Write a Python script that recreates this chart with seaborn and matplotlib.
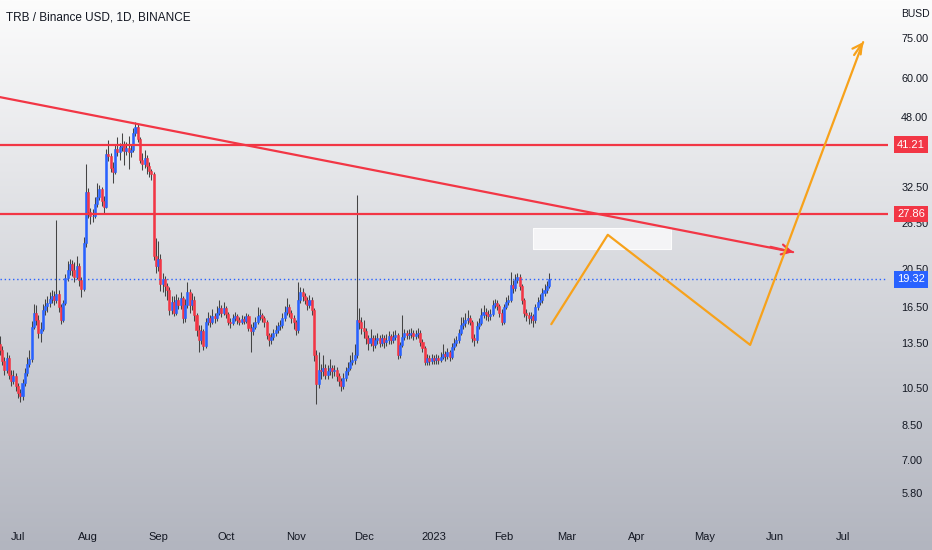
import numpy as np
import pandas as pd
import matplotlib
matplotlib.use("Agg")
import matplotlib.pyplot as plt
import matplotlib.dates as mdates
import matplotlib.transforms as mtransforms
import seaborn as sns

# ---------------- data ----------------
start_date = "2022-06-23"
first_open = 13.4
closes = [
    13.0, 12.2, 11.6, 12.4, 11.3, 10.9, 11.2, 10.6, 10.2, 10.0,
    10.8, 11.4, 12.0, 12.3, 14.8, 16.0, 15.4, 14.3, 14.6, 16.2,
    16.6, 16.9, 17.3, 17.6, 17.2, 17.8, 16.5, 15.4, 16.9, 19.5,
    20.3, 21.0, 20.4, 19.6, 20.8, 19.2, 18.3, 23.7, 31.5, 28.2,
    27.5, 27.6, 29.5, 30.6, 32.0, 30.0, 29.0, 39.0, 38.6, 36.2,
    35.4, 40.2, 39.5, 40.6, 41.0, 39.8, 40.5, 39.4, 40.0, 44.0,
    45.5, 42.5, 37.8, 37.0, 38.2, 36.5, 35.6, 35.0, 22.0, 20.8,
    21.7, 18.8, 19.3, 18.6, 18.2, 16.2, 17.0, 16.0, 17.2, 16.7,
    17.4, 15.5, 16.7, 18.0, 16.7, 17.2, 15.8, 14.5, 13.7, 14.4,
    13.3, 15.2, 15.5, 15.2, 15.7, 15.5, 16.0, 16.4, 16.0, 16.4,
    15.9, 15.2, 15.1, 15.5, 15.7, 15.35, 15.2, 15.45, 15.3, 15.7,
    14.7, 14.4, 14.8, 15.2, 15.7, 15.8, 15.5, 15.2, 14.1, 13.7,
    13.95, 14.3, 14.5, 14.85, 14.9, 15.5, 16.1, 16.5, 15.95, 15.5,
    15.2, 14.5, 17.2, 18.0, 17.6, 17.2, 16.7, 17.2, 16.2, 12.6,
    10.7, 11.6, 11.5, 11.75, 11.3, 11.55, 11.75, 11.5, 11.6, 11.2,
    10.9, 10.6, 11.1, 11.5, 11.75, 12.1, 12.25, 12.6, 15.35, 15.2,
    14.7, 14.4, 13.9, 13.5, 13.9, 13.35, 13.7, 13.9, 13.5, 13.9,
    13.6, 13.7, 14.0, 13.7, 13.95, 14.1, 12.6, 13.35, 13.95, 14.3,
    14.1, 14.2, 14.3, 14.0, 14.2, 14.3, 13.6, 13.1, 12.1, 12.4,
    12.2, 12.4, 12.25, 12.4, 12.25, 12.45, 12.7, 12.55, 12.8, 12.45,
    13.2, 13.5, 13.7, 14.3, 14.9, 15.1, 15.35, 15.5, 15.2, 13.9,
    13.7, 14.85, 15.1, 15.8, 16.1, 15.9, 15.7, 15.9, 16.7, 16.9,
    16.6, 16.0, 15.2, 16.5, 17.0, 17.2, 18.75, 18.4, 19.2, 19.6,
    18.6, 17.2, 16.0, 15.8, 15.5, 15.7, 15.35, 16.5, 17.0, 17.2,
    17.9, 18.2, 18.6, 19.32,
]
highs = [
    14.0, 13.3, 12.5, 12.8, 12.6, 11.6, 11.6, 11.4, 10.8, 10.4,
    11.0, 11.7, 12.5, 13.0, 15.3, 16.8, 16.7, 15.8, 15.2, 16.8,
    17.3, 17.6, 18.0, 18.2, 18.1, 27.0, 18.2, 16.8, 17.2, 19.9,
    21.4, 21.7, 21.5, 21.3, 22.0, 21.2, 19.6, 24.5, 36.9, 32.2,
    28.9, 28.7, 30.6, 33.2, 32.8, 32.5, 30.8, 40.1, 42.2, 39.3,
    37.3, 41.3, 43.0, 41.6, 44.0, 42.0, 41.8, 43.2, 41.2, 45.2,
    46.8, 46.2, 43.0, 39.2, 40.0, 38.9, 37.3, 36.0, 35.4, 24.4,
    24.0, 22.3, 20.0, 19.7, 18.9, 18.5, 17.6, 17.6, 17.8, 17.5,
    18.0, 17.6, 17.3, 19.0, 18.3, 17.9, 17.6, 16.0, 14.9, 14.9,
    14.6, 15.5, 16.1, 15.8, 16.3, 16.0, 16.6, 17.2, 16.7, 17.0,
    16.6, 16.1, 15.5, 15.9, 16.1, 15.9, 15.6, 15.8, 15.7, 16.0,
    15.9, 15.0, 15.2, 15.6, 16.5, 16.3, 16.0, 15.7, 15.4, 14.3,
    14.3, 14.6, 14.9, 15.2, 15.4, 16.0, 16.6, 17.4, 16.8, 16.2,
    15.8, 15.4, 19.0, 18.5, 18.4, 17.9, 17.5, 17.7, 17.5, 16.4,
    13.0, 12.8, 12.0, 12.6, 12.0, 11.9, 12.3, 11.9, 11.9, 11.8,
    11.4, 11.1, 11.4, 11.8, 12.1, 12.6, 12.8, 13.4, 31.0, 16.4,
    15.6, 15.4, 14.7, 14.1, 14.6, 14.1, 14.1, 14.3, 14.1, 14.2,
    14.1, 14.2, 14.4, 14.2, 14.4, 14.5, 14.3, 13.6, 15.8, 14.6,
    14.5, 14.6, 14.7, 14.5, 14.5, 14.7, 14.5, 13.8, 13.3, 12.7,
    12.6, 12.7, 12.6, 12.7, 12.6, 12.8, 13.4, 12.9, 13.1, 13.0,
    13.5, 13.9, 14.0, 14.6, 15.6, 15.6, 16.0, 16.2, 15.8, 15.4,
    14.2, 15.3, 15.5, 16.4, 16.7, 16.4, 16.2, 16.3, 17.2, 17.3,
    17.2, 16.8, 16.3, 16.8, 17.5, 17.7, 20.1, 19.2, 19.9, 20.0,
    19.9, 18.8, 17.4, 16.3, 16.1, 16.1, 15.9, 16.8, 17.5, 17.8,
    18.4, 18.8, 19.1, 20.0,
]
lows = [
    12.6, 11.9, 11.3, 11.4, 11.0, 10.6, 10.7, 10.3, 9.9, 9.7,
    9.8, 10.6, 11.2, 11.8, 12.1, 14.6, 14.9, 13.9, 13.6, 14.4,
    15.8, 16.1, 16.5, 16.9, 16.7, 16.9, 16.1, 15.0, 15.2, 16.7,
    19.1, 19.8, 19.7, 19.0, 19.3, 18.6, 17.5, 18.1, 23.2, 27.3,
    26.3, 26.6, 27.2, 29.0, 30.1, 29.2, 28.1, 28.8, 37.5, 35.4,
    33.2, 35.0, 38.6, 37.7, 39.8, 36.8, 38.9, 36.0, 38.4, 39.6,
    43.2, 41.8, 37.2, 35.8, 36.2, 35.0, 34.4, 33.8, 21.5, 20.0,
    20.2, 18.1, 18.0, 17.6, 17.2, 15.8, 15.9, 15.7, 15.8, 16.3,
    16.3, 15.1, 15.2, 16.4, 16.0, 16.2, 15.3, 14.0, 12.8, 13.4,
    13.0, 13.1, 14.9, 14.8, 15.0, 15.1, 15.3, 15.8, 15.6, 15.8,
    15.5, 14.9, 14.7, 14.9, 15.3, 15.0, 14.9, 15.0, 15.0, 15.1,
    14.4, 12.8, 14.1, 14.6, 15.0, 15.4, 15.2, 14.8, 13.8, 13.3,
    13.4, 13.7, 14.0, 14.3, 14.5, 14.7, 15.3, 15.8, 15.6, 15.1,
    14.6, 14.1, 14.3, 16.9, 17.1, 16.8, 16.2, 16.4, 15.8, 12.2,
    9.6, 10.5, 11.0, 11.2, 11.0, 11.0, 11.3, 11.1, 11.2, 10.9,
    10.6, 10.3, 10.4, 10.9, 11.3, 11.6, 11.9, 12.0, 12.4, 14.6,
    14.2, 13.9, 13.4, 13.0, 13.3, 12.9, 13.1, 13.4, 13.2, 13.3,
    13.1, 13.3, 13.4, 13.4, 13.5, 13.7, 12.3, 12.4, 13.2, 13.7,
    13.8, 13.8, 13.9, 13.7, 13.8, 13.9, 13.3, 12.8, 11.9, 11.9,
    11.9, 12.0, 12.0, 12.0, 12.0, 12.1, 12.3, 12.2, 12.3, 12.2,
    12.3, 13.0, 13.3, 13.5, 14.1, 14.6, 14.8, 15.0, 14.9, 13.6,
    13.3, 13.5, 14.6, 14.9, 15.5, 15.4, 15.3, 15.4, 15.7, 16.4,
    16.2, 15.6, 14.9, 15.0, 16.3, 16.7, 17.0, 17.9, 18.1, 18.9,
    18.2, 16.8, 15.6, 15.3, 15.0, 15.1, 14.8, 15.1, 16.2, 16.7,
    16.9, 17.6, 17.9, 18.4,
]

level_prices = [41.21, 27.86]
last_price = 19.32

trend_dates = ["2022-06-23", "2023-06-09"]
trend_prices = [53.8, 22.5]

path_dates = ["2023-02-22", "2023-03-19", "2023-05-21", "2023-07-10"]
path_prices = [15.0, 24.8, 13.35, 73.3]

box_dates = ["2023-02-14", "2023-04-16"]
box_prices = [22.9, 25.8]

ytick_values = [75, 60, 48, 32.5, 26.5, 20.5, 16.5, 13.5, 10.5, 8.5, 7.0, 5.8]
month_ticks = ["2022-07-01", "2022-08-01", "2022-09-01", "2022-10-01", "2022-11-01",
               "2022-12-01", "2023-01-01", "2023-02-01", "2023-03-01", "2023-04-01",
               "2023-05-01", "2023-06-01", "2023-07-01"]
month_labels = ["Jul", "Aug", "Sep", "Oct", "Nov", "Dec", "2023", "Feb", "Mar",
                "Apr", "May", "Jun", "Jul"]
title_text = "TRB / Binance USD, 1D, BINANCE"
currency_text = "BUSD"

# ---------------- style ----------------
sns.set_theme(style="white")
FONT = ["Liberation Sans Narrow", "Liberation Sans", "DejaVu Sans"]
plt.rcParams["font.family"] = FONT

UP = "#2962ff"
DOWN = "#f23645"
WICK = "#444444"
ORANGE = "#f7a21b"
TEXT = "#131722"

W, H = 932, 550
fig = plt.figure(figsize=(W / 100, H / 100), dpi=100)

# background gradient
bg = fig.add_axes([0, 0, 1, 1])
grad = np.linspace(0, 1, 256)[:, None]
top = np.array([252, 252, 252]) / 255
bot = np.array([178, 181, 191]) / 255
img = top[None, None, :] * (1 - grad[..., None]) + bot[None, None, :] * grad[..., None]
img = np.repeat(img, 2, axis=1)
bg.imshow(img, aspect="auto", extent=[0, 1, 0, 1], origin="upper")
bg.set_axis_off()

plot_bottom = 522
ax = fig.add_axes([0, (H - plot_bottom) / H, 888 / W, plot_bottom / H])
ax.patch.set_alpha(0)

# ---------------- candles ----------------
dates = pd.date_range(start_date, periods=len(closes), freq="D")
xs = mdates.date2num(dates)
opens = [first_open] + closes[:-1]
df = pd.DataFrame({"date": dates, "x": xs, "open": opens, "close": closes,
                   "high": highs, "low": lows})
df["up"] = df["close"] >= df["open"]
df["bottom"] = df[["open", "close"]].min(axis=1)
df["top"] = df[["open", "close"]].max(axis=1)
body_colors = np.where(df["up"], UP, DOWN)

ax.vlines(df["x"], df["low"], df["high"], color=WICK, lw=0.75, zorder=2)
ax.bar(df["x"], df["top"] - df["bottom"], bottom=df["bottom"], width=0.9,
       color=body_colors, edgecolor=body_colors, linewidth=0.4, zorder=3)

ax.set_yscale("log")
ax.set_ylim(4.93, 92.9)
x_jul1 = mdates.date2num(pd.Timestamp("2022-07-01"))
ax.set_xlim(x_jul1 - 7.96, x_jul1 + 385)

# ---------------- levels ----------------
for p in level_prices:
    ax.axhline(p, color=DOWN, lw=1.6, zorder=4)
ax.axhline(last_price, color=UP, lw=1.0, ls=(0, (1, 2)), zorder=4)

# white box
bx = mdates.date2num(pd.to_datetime(box_dates))
ax.fill_between(bx, box_prices[0], box_prices[1], color="#f7f7f9", alpha=0.9,
                linewidth=0.8, edgecolor="white", zorder=4)

# trend line (red)
tdf = pd.DataFrame({"date": pd.to_datetime(trend_dates), "price": trend_prices})
sns.lineplot(data=tdf, x="date", y="price", color=DOWN, lw=1.6, ax=ax, zorder=5,
             sort=False)
tx = mdates.date2num(tdf["date"])
ax.annotate("", xy=(tx[1], trend_prices[1]),
            xytext=(tx[1] - 10, trend_prices[1] * 1.03),
            arrowprops=dict(arrowstyle="->,head_length=0.55,head_width=0.3",
                            color=DOWN, lw=1.6, shrinkA=0, shrinkB=0), zorder=5)

# projection path (orange)
pdf = pd.DataFrame({"date": pd.to_datetime(path_dates), "price": path_prices})
sns.lineplot(data=pdf, x="date", y="price", color=ORANGE, lw=1.6, ax=ax, zorder=5,
             sort=False)
px = mdates.date2num(pdf["date"])
ax.annotate("", xy=(px[-1], path_prices[-1]),
            xytext=(px[-1] - 4, path_prices[-1] * 0.93),
            arrowprops=dict(arrowstyle="->,head_length=0.55,head_width=0.3",
                            color=ORANGE, lw=1.6, shrinkA=0, shrinkB=0), zorder=5)

# ---------------- axes ----------------
for s in ax.spines.values():
    s.set_visible(False)
ax.set_xlabel("")
ax.set_ylabel("")
ax.set_xticks(mdates.date2num(pd.to_datetime(month_ticks)))
ax.set_xticklabels(month_labels, fontsize=8, color=TEXT)
ax.tick_params(axis="x", length=0, pad=7)
ax.yaxis.tick_right()
ax.set_yticks(ytick_values)
ax.set_yticklabels([f"{v:.2f}" for v in ytick_values], fontsize=7.8, color=TEXT)
ax.yaxis.set_minor_locator(matplotlib.ticker.NullLocator())
ax.tick_params(axis="y", which="both", length=0, pad=9.5)
ax.grid(False)

# price tags on the axis
blend = mtransforms.blended_transform_factory(ax.transAxes, ax.transData)
tag_x = 1 + 23 / 888
for p in level_prices:
    ax.text(tag_x, p, f"{p:.2f}", transform=blend, ha="center", va="center",
            color="white", fontsize=8, clip_on=False, zorder=10,
            bbox=dict(boxstyle="square,pad=0.3", fc=DOWN, ec="none"))
ax.text(tag_x, last_price, f"{last_price:.2f}", transform=blend, ha="center",
        va="center", color="white", fontsize=8, clip_on=False, zorder=10,
        bbox=dict(boxstyle="square,pad=0.3", fc=UP, ec="none"))

fig.text(6 / W, 1 - 17 / H, title_text, ha="left", va="center", fontsize=8.5,
         color=TEXT)
fig.text(901 / W, 1 - 14 / H, currency_text, ha="left", va="center", fontsize=7.5,
         color=TEXT)

fig.savefig("out.png", dpi=100)
